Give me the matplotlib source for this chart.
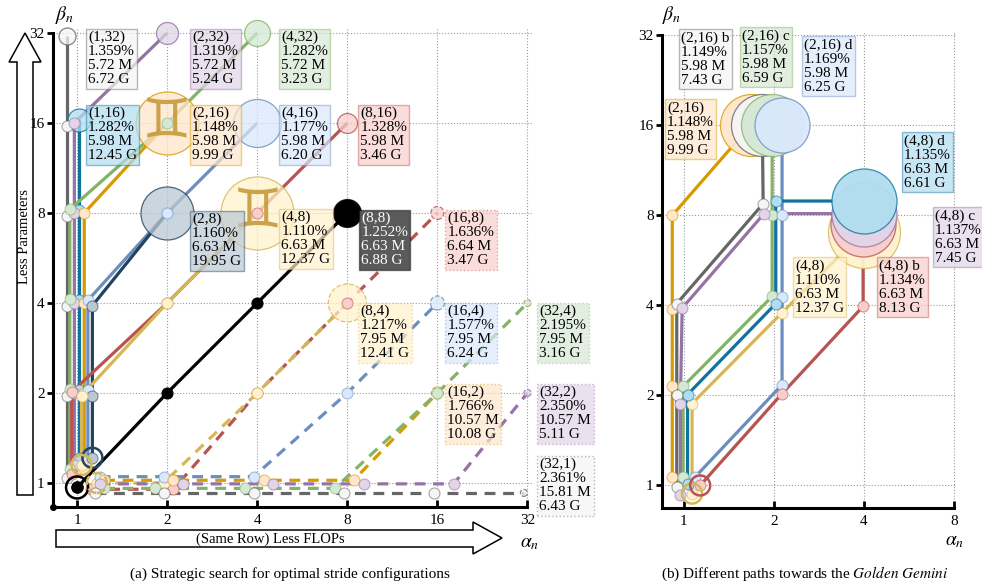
import matplotlib.pyplot as plt
from matplotlib.colors import to_rgba
from matplotlib.patches import Polygon

plt.rcParams['font.family'] = ['Liberation Serif', 'DejaVu Serif']
plt.rcParams['mathtext.fontset'] = 'stix'

# ---------------- data ----------------
ticks = [1, 2, 4, 8, 16, 32]
tick_labels = ['1', '2', '4', '8', '16', '32']
b_xticks = [1, 2, 4, 8]

# (a) search paths, (alpha, beta) at every step
a_solid = {
    'gray':   [(1, 1), (1, 2), (1, 4), (1, 8), (1, 16), (1, 32)],
    'teal':   [(1, 1), (1, 2), (1, 4), (1, 8), (1, 16)],
    'purple': [(1, 1), (1, 2), (1, 4), (1, 8), (1, 16), (2, 32)],
    'green':  [(1, 1), (1, 2), (1, 4), (1, 8), (2, 16), (4, 32)],
    'orange': [(1, 1), (1, 2), (1, 4), (1, 8), (2, 16)],
    'blue':   [(1, 1), (1, 2), (1, 4), (2, 8), (4, 16)],
    'slate':  [(1, 1), (1, 2), (1, 4), (2, 8)],
    'red':    [(1, 1), (1, 2), (2, 4), (4, 8), (8, 16)],
    'yellow': [(1, 1), (1, 2), (2, 4), (4, 8)],
    'black':  [(1, 1), (2, 2), (4, 4), (8, 8)],
}
a_dashed = {
    'red':    [(1, 1), (2, 1), (4, 2), (8, 4), (16, 8)],
    'yellow': [(1, 1), (2, 1), (4, 2), (8, 4)],
    'blue':   [(1, 1), (2, 1), (4, 1), (8, 2), (16, 4)],
    'orange': [(1, 1), (2, 1), (4, 1), (8, 1), (16, 2)],
    'green':  [(1, 1), (2, 1), (4, 1), (8, 1), (16, 2), (32, 4)],
    'purple': [(1, 1), (2, 1), (4, 1), (8, 1), (16, 1), (32, 2)],
    'gray':   [(1, 1), (2, 1), (4, 1), (8, 1), (16, 1), (32, 1)],
}
a_names = ['(1,32)', '(2,32)', '(4,32)', '(1,16)', '(2,16)', '(4,16)', '(8,16)',
           '(2,8)', '(4,8)', '(8,8)', '(16,8)', '(8,4)', '(16,4)', '(32,4)',
           '(16,2)', '(32,2)', '(32,1)']
a_err = ['1.359%', '1.319%', '1.282%', '1.282%', '1.148%', '1.177%', '1.328%',
         '1.160%', '1.110%', '1.252%', '1.636%', '1.217%', '1.577%', '2.195%',
         '1.766%', '2.350%', '2.361%']
a_params = ['5.72 M', '5.72 M', '5.72 M', '5.98 M', '5.98 M', '5.98 M', '5.98 M',
            '6.63 M', '6.63 M', '6.63 M', '6.64 M', '7.95 M', '7.95 M', '7.95 M',
            '10.57 M', '10.57 M', '15.81 M']
a_flops = ['6.72 G', '5.24 G', '3.23 G', '12.45 G', '9.99 G', '6.20 G', '3.46 G',
           '19.95 G', '12.37 G', '6.88 G', '3.47 G', '12.41 G', '6.24 G', '3.16 G',
           '10.08 G', '5.11 G', '6.43 G']

# (b) paths towards the golden gemini
b_paths = {
    'orange': [(1, 1), (1, 2), (1, 4), (1, 8), (2, 16)],
    'gray':   [(1, 1), (1, 2), (1, 4), (2, 8), (2, 16)],
    'green':  [(1, 1), (1, 2), (2, 4), (2, 8), (2, 16)],
    'blue':   [(1, 1), (2, 2), (2, 4), (2, 8), (2, 16)],
    'yellow': [(1, 1), (1, 2), (2, 4), (4, 8)],
    'red':    [(1, 1), (2, 2), (4, 4), (4, 8)],
    'purple': [(1, 1), (1, 2), (1, 4), (2, 8), (4, 8)],
    'teal':   [(1, 1), (1, 2), (2, 4), (2, 8), (4, 8)],
}
b_names = ['(2,16)', '(2,16) b', '(2,16) c', '(2,16) d', '(4,8)', '(4,8) b', '(4,8) c', '(4,8) d']
b_err = ['1.148%', '1.149%', '1.157%', '1.169%', '1.110%', '1.134%', '1.137%', '1.135%']
b_params = ['5.98 M', '5.98 M', '5.98 M', '5.98 M', '6.63 M', '6.63 M', '6.63 M', '6.63 M']
b_flops = ['9.99 G', '7.43 G', '6.59 G', '6.25 G', '12.37 G', '8.13 G', '7.45 G', '6.61 G']
b_path_name = {'orange': '(2,16)', 'gray': '(2,16) b', 'green': '(2,16) c', 'blue': '(2,16) d',
               'yellow': '(4,8)', 'red': '(4,8) b', 'purple': '(4,8) c', 'teal': '(4,8) d'}

# ---------------- style ----------------
COL = {  # fill, stroke
    'gray': ('#f5f5f5', '#666666'), 'purple': ('#e1d5e7', '#9673a6'),
    'green': ('#d5e8d4', '#82b366'), 'orange': ('#ffe6cc', '#d79b00'),
    'blue': ('#dae8fc', '#6c8ebf'), 'red': ('#f8cecc', '#b85450'),
    'yellow': ('#fff2cc', '#d6b656'), 'teal': ('#b1ddf0', '#10739e'),
    'slate': ('#bac8d3', '#23445d'), 'black': ('#000000', '#000000'),
}
# log2 jitter: x on vertical run, y on vertical run, y of start
a_solid_jit = {
    'gray': (-0.11, -0.03, 0.05), 'green': (-0.08, 0.04, 0.15), 'red': (-0.06, 0.01, 0.1),
    'purple': (-0.03, 0.0, 0.2), 'teal': (0.02, 0.03, 0.28), 'yellow': (0.05, -0.03, 0.2),
    'orange': (0.08, 0.0, 0.15), 'blue': (0.12, 0.03, 0.25), 'slate': (0.17, -0.03, 0.28),
    'black': (0.0, 0.0, -0.05),
}
# x on horizontal run, y on horizontal run, x of start
a_dash_jit = {
    'red': (0.07, -0.07, 0.15), 'yellow': (-0.04, 0.0, 0.22), 'blue': (-0.04, 0.07, 0.25),
    'orange': (0.07, 0.03, 0.3), 'green': (-0.14, -0.06, 0.3), 'purple': (0.18, -0.01, 0.25),
    'gray': (-0.04, -0.11, 0.2),
}
b_jit = {
    'orange': [(-0.13, 0.09), (-0.13, 0.1), (-0.13, -0.04), (-0.13, 0.0), (-0.26, 0.0)],
    'gray':   [(-0.08, -0.02), (-0.08, 0.0), (-0.08, 0.02), (-0.12, 0.13), (-0.13, 0.0)],
    'green':  [(-0.01, 0.09), (-0.01, 0.1), (-0.02, 0.1), (-0.02, 0.01), (-0.02, 0.0)],
    'blue':   [(0.12, 0.09), (0.09, 0.12), (0.09, 0.09), (0.09, 0.01), (0.09, 0.0)],
    'yellow': [(0.09, -0.09), (0.09, -0.09), (0.09, -0.08), (0.0, -0.18)],
    'red':    [(0.18, 0.0), (0.09, 0.02), (-0.01, -0.01), (-0.01, -0.09)],
    'purple': [(-0.04, -0.11), (-0.04, -0.09), (-0.02, -0.03), (-0.11, 0.02), (0.0, 0.02)],
    'teal':   [(0.04, 0.02), (0.04, 0.01), (0.02, 0.02), (0.02, 0.16), (0.0, 0.16)],
}
# end circle diameters in px
a_end_d = {'(1,32)': 17, '(2,32)': 22, '(4,32)': 26, '(1,16)': 23, '(2,16)': 63,
           '(4,16)': 48, '(8,16)': 20, '(2,8)': 53, '(4,8)': 73, '(8,8)': 28,
           '(16,8)': 13, '(8,4)': 38, '(16,4)': 14, '(32,4)': 7, '(16,2)': 12,
           '(32,2)': 7, '(32,1)': 7}
b_end_d = {'orange': 62, 'gray': 62, 'green': 62, 'blue': 55,
           'yellow': 72, 'red': 65, 'purple': 65, 'teal': 65}
a_lab_off = {
    '(1,32)': (11, 2), '(2,32)': (25, 2), '(4,32)': (24, 2),
    '(1,16)': (11, 16), '(2,16)': (25, 16), '(4,16)': (24, 16), '(8,16)': (13, 16),
    '(2,8)': (25, 0), '(4,8)': (24, 2), '(8,8)': (14, 1), '(16,8)': (10, 1),
    '(8,4)': (13, -2), '(16,4)': (10, -2), '(32,4)': (12, -2),
    '(16,2)': (10, 7), '(32,2)': (12, 7), '(32,1)': (12, 25),
}
b_lab_off = {
    '(2,16) b': (-93, 94), '(2,16) c': (-32, 96), '(2,16) d': (30, 87), '(2,16)': (-107, 24),
    '(4,8) d': (40, 81), '(4,8) c': (71, 6), '(4,8)': (-69, -44), '(4,8) b': (15, -44),
}

PX = 0.72  # px -> pt at dpi 100
SMALL = 11 * PX


def setup(ax, xr, yr, xt):
    ax.set_xscale('log', base=2)
    ax.set_yscale('log', base=2)
    ax.set_xlim(2 ** xr[0], 2 ** xr[1])
    ax.set_ylim(2 ** yr[0], 2 ** yr[1])
    ax.set_xticks(xt)
    ax.set_xticklabels([str(t) for t in xt])
    ax.set_yticks(ticks)
    ax.set_yticklabels(tick_labels)
    ax.minorticks_off()
    ax.grid(True, ls=':', lw=0.8, color='#9a9a9a')
    ax.set_axisbelow(True)
    for s in ['top', 'right']:
        ax.spines[s].set_visible(False)
    for s in ['left', 'bottom']:
        ax.spines[s].set_linewidth(2.2)
    ax.spines['left'].set_bounds(2 ** yr[0], 32)
    ax.spines['bottom'].set_bounds(2 ** xr[0], xt[-1])
    ax.tick_params(axis='y', direction='out', length=4, width=2, pad=2, labelsize=11)
    ax.tick_params(axis='x', direction='in', length=5, width=2, pad=5, labelsize=11)


def draw_path(ax, pts, jit, color, dashed=False):
    fill, stroke = COL[color]
    xs = [p[0] * 2 ** j[0] for p, j in zip(pts, jit)]
    ys = [p[1] * 2 ** j[1] for p, j in zip(pts, jit)]
    ls = (0, (3.4, 2.4)) if dashed else '-'
    ax.plot(xs, ys, color=stroke, lw=2.3, ls=ls, zorder=2, solid_capstyle='butt')
    ax.plot(xs[:-1], ys[:-1], 'o', ms=SMALL, mfc=fill, ls='none',
            mec=to_rgba(stroke, 0.55 if color != 'black' else 1), mew=0.8, zorder=5)
    return xs, ys


def end_circle(ax, x, y, d, color, dashed=False, alpha=0.75):
    fill, stroke = COL[color]
    ax.scatter([x], [y], s=(d * PX) ** 2, c=[to_rgba(fill, alpha)],
               edgecolors=[to_rgba(stroke, 0.8)], linewidths=0.9,
               linestyles='--' if dashed else '-', zorder=4, clip_on=False)


def ring(ax, x, y, color, d=22, dashed=False):
    fill, stroke = COL[color]
    ax.scatter([x], [y], s=(d * PX) ** 2, facecolors='none',
               edgecolors=stroke, linewidths=1.8, linestyles='--' if dashed else '-', zorder=6)


def label(ax, x, y, txt, color, off, dotted=False):
    fill, stroke = COL[color]
    tc = 'black'
    fc = to_rgba(fill, 0.7)
    if color == 'black':
        fc, tc = '#5a5a5a', 'white'
    ax.annotate(txt, (x, y), xytext=off, textcoords='offset pixels', ha='left', va='top',
                fontsize=11, color=tc, linespacing=1.1, zorder=8, annotation_clip=False,
                bbox=dict(boxstyle='square,pad=0.15', fc=fc, ec=to_rgba(stroke, 0.45),
                          lw=1, ls=':' if dotted else '-'))


fig = plt.figure(figsize=(9.82, 5.87), dpi=100)

# background overlay for the hollow arrows
ov = fig.add_axes([0, 0, 1, 1], zorder=0)
ov.set_xlim(0, 982)
ov.set_ylim(587, 0)
ov.axis('off')
ov.add_patch(Polygon([(17, 495), (33, 495), (33, 62), (41, 62), (25, 33), (9, 62), (17, 62)],
                     closed=True, fc='white', ec='black', lw=1.1))
ov.add_patch(Polygon([(56, 530), (473, 530), (473, 522), (502, 538), (473, 554), (473, 547), (56, 547)],
                     closed=True, fc='white', ec='black', lw=1.1))
ov.text(25, 237, 'Less Parameters', rotation=90, ha='center', va='center', fontsize=10.5)
ov.text(270, 539, '(Same Row) Less FLOPs', ha='center', va='center', fontsize=10.5)

# ---------------- panel (a) ----------------
axA = fig.add_axes([53 / 982, 80 / 587, 479 / 982, 478.5 / 587], zorder=2)
axA.patch.set_alpha(0)
setup(axA, (-0.267, 5.05), (-0.267, 5.05), ticks)

a_lookup = {n: (e, p, f) for n, e, p, f in zip(a_names, a_err, a_params, a_flops)}

for color, pts in a_solid.items():
    xo, yo, ys0 = a_solid_jit[color]
    jit = []
    for (x, y) in pts:
        if x == 1:
            jit.append((xo, ys0 if y == 1 else yo))
        else:
            jit.append((0.0, 0.0))
    xs, ys = draw_path(axA, pts, jit, color)
    name = '({},{})'.format(*pts[-1])
    end_circle(axA, xs[-1], ys[-1], a_end_d[name], color,
               alpha=1 if color == 'black' else 0.75)
    e, p, f = a_lookup[name]
    label(axA, pts[-1][0], pts[-1][1], '\n'.join([name, e, p, f]), color, a_lab_off[name])
    if color == 'black':
        ring(axA, xs[0], ys[0], 'black', d=22)
        axA.plot(xs[0], ys[0], 'o', ms=SMALL, color='black', zorder=7)
    if color in ('slate', 'yellow'):
        ring(axA, xs[0], ys[0], color, d=20)

for color, pts in a_dashed.items():
    xh, yh, xs0 = a_dash_jit[color]
    jit = []
    for (x, y) in pts:
        if y == 1:
            jit.append((xs0 if x == 1 else xh, yh))
        else:
            jit.append((0.0, 0.0))
    xs, ys = draw_path(axA, pts, jit, color, dashed=True)
    name = '({},{})'.format(*pts[-1])
    end_circle(axA, xs[-1], ys[-1], a_end_d[name], color, dashed=True)
    e, p, f = a_lookup[name]
    label(axA, pts[-1][0], pts[-1][1], '\n'.join([name, e, p, f]), color,
          a_lab_off[name], dotted=True)
    if color == 'yellow':
        ring(axA, xs[0], ys[0], color, d=20, dashed=True)

# gemini emblems
for (gx, gy) in [(2, 16), (4, 8)]:
    axA.text(gx, gy, '\u264a', fontsize=40, color='#c79a3c', ha='center', va='center',
             family='DejaVu Sans', zorder=4.5, alpha=0.9)

axA.plot(2 ** -0.267, 2 ** -0.267, 'o', color='black', ms=4, clip_on=False, zorder=10)

# ---------------- panel (b) ----------------
axB = fig.add_axes([662 / 982, 78.6 / 587, 293.8 / 982, 477.5 / 587], zorder=2)
axB.patch.set_alpha(0)
setup(axB, (-0.244, 3.02), (-0.255, 5.05), b_xticks)

b_lookup = {n: (e, p, f) for n, e, p, f in zip(b_names, b_err, b_params, b_flops)}
for color, pts in b_paths.items():
    xs, ys = draw_path(axB, pts, b_jit[color], color)
    end_circle(axB, xs[-1], ys[-1], b_end_d[color], color, alpha=0.95)
    name = b_path_name[color]
    e, p, f = b_lookup[name]
    label(axB, pts[-1][0], pts[-1][1], '\n'.join([name, e, p, f]), color, b_lab_off[name])
    if color in ('yellow', 'red'):
        ring(axB, xs[0], ys[0], color, d=20)

# axis symbols
fig.text(65 / 982, 1 - 15 / 587, r'$\beta_n$', ha='center', va='center', fontsize=14)
fig.text(530 / 982, 1 - 543 / 587, r'$\alpha_n$', ha='center', va='center', fontsize=14)
fig.text(672 / 982, 1 - 15 / 587, r'$\beta_n$', ha='center', va='center', fontsize=14)
fig.text(955 / 982, 1 - 541 / 587, r'$\alpha_n$', ha='center', va='center', fontsize=14)

fig.text(290 / 982, 1 - 574 / 587, '(a) Strategic search for optimal stride configurations',
         ha='center', va='center', fontsize=11)
fig.text(805 / 982, 1 - 574 / 587, r'(b) Different paths towards the $\mathit{Golden\ Gemini}$',
         ha='center', va='center', fontsize=11)

fig.savefig('out.png', dpi=100)
